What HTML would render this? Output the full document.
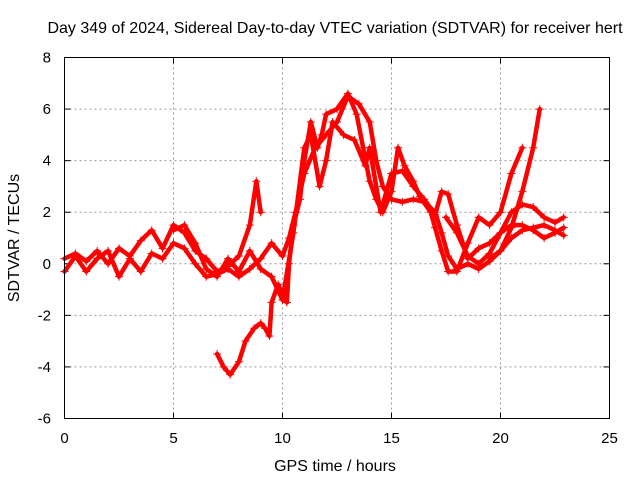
<!DOCTYPE html>
<html><head><meta charset="utf-8"><style>
body{margin:0;background:#fff}
svg text{font-family:"Liberation Sans",sans-serif;font-size:15px;fill:#000}
</style></head><body>
<svg id="c" width="640" height="480">
<text x="335" y="33" text-anchor="middle" style="font-size:16px">Day 349 of 2024, Sidereal Day-to-day VTEC variation (SDTVAR) for receiver hert</text>
<text x="335" y="471" text-anchor="middle" style="font-size:16px">GPS time / hours</text>
<text transform="translate(19,238) rotate(-90)" text-anchor="middle" style="font-size:16px">SDTVAR / TECUs</text>
<g id="grid"></g><g id="axes"></g><g id="data"></g>
<rect x="64.5" y="57.5" width="545" height="361" fill="none" stroke="#000"/>
</svg>
<script>
const xTicks=[0,5,10,15,20,25];
const yTicks=[-6,-4,-2,0,2,4,6,8];
const s1=[[0,0.2],[0.5,0.4],[1,0.1],[1.5,0.5],[2,0],[2.5,0.6],[3,0.3],[3.5,0.9],[4,1.3],[4.5,0.6],[5,1.5],[5.5,1.2],[6,0.5],[6.5,0.2],[7,-0.3],[7.5,-0.1],[8,0.3],[8.5,1.5],[8.8,3.2],[9,2.0]];
const s2=[[0,-0.3],[0.5,0.3],[1,-0.3],[1.5,0.2],[2,0.5],[2.5,-0.5],[3,0.2],[3.5,-0.3],[4,0.4],[4.5,0.2],[5,0.8],[5.5,0.6],[6,0],[6.5,-0.5],[7,-0.4],[7.5,-0.2],[8,-0.5],[8.5,-0.2],[9,0.2],[9.5,0.8],[10,0.3],[10.3,1],[10.6,2],[11,3.5],[11.5,4.5],[12,5],[12.5,5.5],[13,6.5],[13.5,6.2],[14,5.5],[14.3,4],[14.6,3],[15,2.5],[15.5,2.4],[16,2.5],[16.5,2.4],[17,2.0],[17.3,1.2],[17.6,0.3],[18,-0.2],[18.5,0],[19,-0.2],[19.5,0.1],[20,0.5],[20.5,1.0],[21,1.3],[21.5,1.4],[22,1.5],[22.5,1.3],[22.9,1.1]];
const s3=[[7,-3.5],[7.3,-4],[7.6,-4.3],[8,-3.8],[8.3,-3],[8.7,-2.5],[9,-2.3],[9.2,-2.5],[9.4,-2.8],[9.5,-1.5],[9.8,-0.8],[10,-1.2],[10.2,-1.5],[10.3,0],[10.5,1.5],[10.8,2.5],[11,4],[11.3,5.5],[11.6,4.5],[11.8,5],[12,5.8],[12.5,6],[13,6.6],[13.4,5.8],[13.7,4.5],[14,3.2],[14.3,2.5],[14.6,2],[15,2.8],[15.3,4.5],[15.6,3.8],[16,3.2],[16.3,2.6],[16.8,2],[17,1.4],[17.3,0.5],[17.6,-0.3],[18,-0.3],[18.5,0.8],[19,1.8],[19.5,1.5],[20,2],[20.5,3.5],[21,4.5]];
const s4=[[5,1.3],[5.5,1.5],[6,0.8],[6.5,-0.2],[7,-0.5],[7.5,0.2],[8,-0.3],[8.5,0.5],[9,-0.2],[9.5,-0.5],[10,-1.4],[10.5,1.2],[11,4.5],[11.3,5],[11.7,3],[12,4],[12.3,5.5],[12.8,5],[13.3,4.8],[13.8,3.8],[14,4.5],[14.5,2],[15,3.5],[15.5,3.6],[16,3],[16.5,2.5],[17,1.9],[17.3,2.8],[17.6,2.7],[18,1.5],[18.5,0.2],[19,0.6],[19.5,0.8],[20,1.2],[20.5,2],[21,2.3],[21.5,2.2],[22,1.8],[22.5,1.6],[22.9,1.8]];
const s5=[[19.5,0.2],[20,0.5],[20.5,1.4],[21,2.8],[21.5,4.5],[21.8,6]];
const s6=[[17.5,1.8],[18,1.2],[18.5,0.3],[19,0],[19.5,0.4],[20,1.2],[20.5,1.5],[21,1.5],[21.5,1.3],[22,1.0],[22.5,1.2],[22.9,1.4]];
const seriesList=[s1,s2,s3,s4,s5,s6];
const X0=64.5,X1=609.5,Y0=418.5,Y1=57.5;
const xs=v=>X0+(v-0)/25*(X1-X0);
const ys=v=>Y0-(v+6)/14*(Y0-Y1);
const NS="http://www.w3.org/2000/svg";
function mk(t,a,p){const e=document.createElementNS(NS,t);for(const k in a)e.setAttribute(k,a[k]);p.appendChild(e);return e;}
const g=document.getElementById('grid'),ax=document.getElementById('axes'),d=document.getElementById('data');
xTicks.forEach(v=>{const x=xs(v);
 if(v>0&&v<25){const l=mk('line',{x1:x,x2:x,y1:Y1,y2:Y0,stroke:'#999','stroke-dasharray':'2,3'},g);
 }
 const t=mk('line',{x1:x,x2:x,y1:Y0,y2:Y0-6,stroke:'#000'},ax);
 
 const t2=mk('line',{x1:x,x2:x,y1:Y1,y2:Y1+6,stroke:'#000'},ax);
 
 const tx=mk('text',{x:x,y:443,'text-anchor':'middle'},ax);tx.textContent=v;
 });
yTicks.forEach(v=>{const y=ys(v);
 if(v>-6&&v<8){const l=mk('line',{x1:X0,x2:X1,y1:y,y2:y,stroke:'#999','stroke-dasharray':'2,3'},g);
 }
 const t=mk('line',{x1:X0,x2:X0+6,y1:y,y2:y,stroke:'#000'},ax);
 
 const t2=mk('line',{x1:X1,x2:X1-6,y1:y,y2:y,stroke:'#000'},ax);
 
 const tx=mk('text',{x:51,y:y+5,'text-anchor':'end'},ax);tx.textContent=v;
 });
seriesList.forEach((s,i)=>{
 const p=mk('polyline',{points:s.map(q=>xs(q[0])+','+ys(q[1])).join(' '),fill:'none',stroke:'#f00','stroke-width':4.5,'stroke-linejoin':'round','stroke-linecap':'round'},d);
 
 
 s.forEach(q=>{const x=xs(q[0]),y=ys(q[1]);
  const m=mk('path',{d:`M${x-4},${y}H${x+4}M${x},${y-4}V${y+4}`,stroke:'#f00','stroke-width':1},d);
  
  });
});
</script>
</body></html>
